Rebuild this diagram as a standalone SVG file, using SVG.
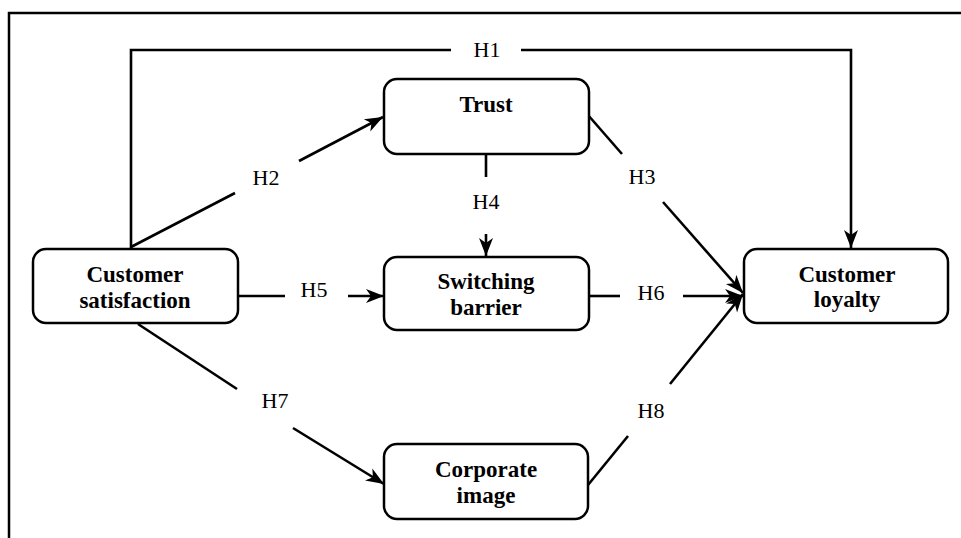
<svg xmlns="http://www.w3.org/2000/svg" width="961" height="538" viewBox="0 0 961 538">
<style>
  .node rect { fill: #fff; stroke: #000; stroke-width: 2.5; }
  .nt { font-family: "Liberation Serif", "Times New Roman", serif; font-weight: bold; font-size: 23px; text-anchor: middle; fill: #000; }
  .lbl { font-family: "Liberation Serif", "Times New Roman", serif; font-size: 22px; text-anchor: middle; fill: #000; }
  .edge { fill: none; stroke: #000; stroke-width: 2.6; }
  .frame { fill: none; stroke: #000; stroke-width: 2.5; }
</style>
<defs>
  <marker id="arr" markerUnits="userSpaceOnUse" markerWidth="20" markerHeight="16" refX="18" refY="8" orient="auto">
    <path d="M0,1 L18,8 L0,15 L5,8 Z" fill="#000"/>
  </marker>
</defs>
<rect width="961" height="538" fill="#fff"/>
<path class="frame" d="M9,538 L9,13 L961,13"/>

<g id="connectors">
  <!-- H1 -->
  <path class="edge" d="M131,249 L131,50 L451,50"/>
  <path class="edge" d="M521,50 L851,50 L851,248" marker-end="url(#arr)"/>
  <text class="lbl" x="487" y="57">H1</text>
  <!-- H2 -->
  <path class="edge" d="M131,247 L235,193"/>
  <path class="edge" d="M299,161 L383,117" marker-end="url(#arr)"/>
  <text class="lbl" x="266" y="185">H2</text>
  <!-- H3 -->
  <path class="edge" d="M588,115 L622,154"/>
  <path class="edge" d="M663,202 L743,293" marker-end="url(#arr)"/>
  <text class="lbl" x="642" y="184">H3</text>
  <!-- H4 -->
  <path class="edge" d="M486,155 L486,177"/>
  <path class="edge" d="M486,234 L486,256" marker-end="url(#arr)"/>
  <text class="lbl" x="486" y="209">H4</text>
  <!-- H5 -->
  <path class="edge" d="M238,296 L285,296"/>
  <path class="edge" d="M348,296 L384,296" marker-end="url(#arr)"/>
  <text class="lbl" x="314" y="297">H5</text>
  <!-- H6 -->
  <path class="edge" d="M588,296 L620,296"/>
  <path class="edge" d="M683,296 L743,296" marker-end="url(#arr)"/>
  <text class="lbl" x="651" y="300">H6</text>
  <!-- H7 -->
  <path class="edge" d="M138,324 L237,389"/>
  <path class="edge" d="M293,428 L384,484" marker-end="url(#arr)"/>
  <text class="lbl" x="275" y="408">H7</text>
  <!-- H8 -->
  <path class="edge" d="M588,485 L628,436"/>
  <path class="edge" d="M670,384 L743,294" marker-end="url(#arr)"/>
  <text class="lbl" x="651" y="418">H8</text>
</g>

<g id="customer-satisfaction" class="node">
  <rect x="33" y="249" width="205" height="74" rx="13"/>
  <text class="nt" x="135" y="282">Customer</text>
  <text class="nt" x="135" y="308">satisfaction</text>
</g>
<g id="trust" class="node">
  <rect x="384" y="79" width="205" height="75" rx="13"/>
  <text class="nt" x="486" y="112">Trust</text>
</g>
<g id="switching-barrier" class="node">
  <rect x="384" y="257" width="205" height="73" rx="13"/>
  <text class="nt" x="486" y="289">Switching</text>
  <text class="nt" x="486" y="315">barrier</text>
</g>
<g id="customer-loyalty" class="node">
  <rect x="744" y="249" width="204" height="74" rx="13"/>
  <text class="nt" x="847" y="282">Customer</text>
  <text class="nt" x="847" y="307">loyalty</text>
</g>
<g id="corporate-image" class="node">
  <rect x="384" y="444" width="204" height="75" rx="13"/>
  <text class="nt" x="486" y="477">Corporate</text>
  <text class="nt" x="486" y="503">image</text>
</g>
</svg>
